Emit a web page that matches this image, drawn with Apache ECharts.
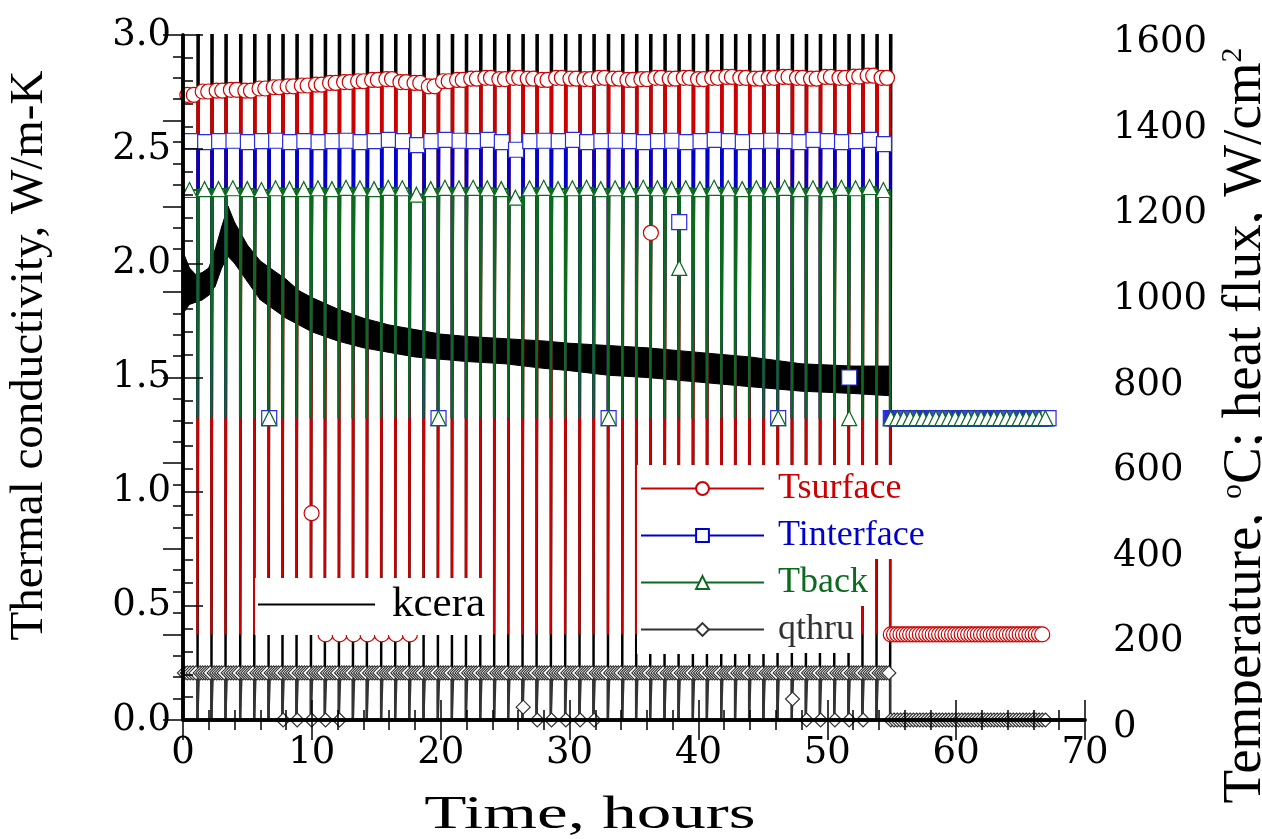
<!DOCTYPE html>
<html>
<head>
<meta charset="utf-8">
<script src="https://cdn.jsdelivr.net/npm/echarts@6/dist/echarts.min.js"></script>
<style>
  html, body { margin: 0; background: #fff; }
  #chart { width: 1262px; height: 839px; }
</style>
</head>
<body>
<div id="chart"></div>
<script>
// start of each cool-down (hours)
const cycleTimes = [1.12, 2.20, 3.29, 4.43, 5.52, 6.63, 7.71, 8.80, 9.92, 11.00,
  12.09, 13.18, 14.26, 15.37, 16.46, 17.55, 18.66, 19.77, 20.86, 21.95,
  23.06, 24.14, 25.23, 26.34, 27.43, 28.54, 29.65, 30.76, 31.85, 32.97,
  34.08, 35.16, 36.25, 37.36, 38.45, 39.56, 40.65, 41.76, 42.84, 43.93,
  45.04, 46.13, 47.24, 48.33, 49.42, 50.53, 51.64, 52.72, 53.81, 54.87]
const coolLength = 0.12
const tailEnd = 67.2

// hot plateau before each cool-down
const tsurfHot = [1460, 1468, 1470, 1472, 1470, 1475, 1478, 1480, 1482, 1484,
  1488, 1490, 1492, 1495, 1497, 1490, 1488, 1480, 1492, 1495,
  1498, 1500, 1497, 1500, 1498, 1495, 1500, 1498, 1497, 1500,
  1498, 1495, 1497, 1500, 1498, 1500, 1497, 1500, 1502, 1500,
  1498, 1500, 1502, 1500, 1498, 1502, 1500, 1503, 1505, 1500]
const tintHot = [1352, 1350, 1352, 1353, 1350, 1352, 1353, 1350, 1352, 1350,
  1352, 1353, 1350, 1352, 1355, 1352, 1343, 1352, 1355, 1353,
  1352, 1355, 1350, 1332, 1352, 1353, 1352, 1355, 1350, 1352,
  1353, 1352, 1350, 1352, 1353, 1350, 1352, 1355, 1352, 1350,
  1352, 1353, 1352, 1350, 1355, 1352, 1350, 1352, 1355, 1345]
const tbackHot = [1238, 1240, 1240, 1242, 1240, 1238, 1242, 1240, 1240, 1242,
  1240, 1243, 1242, 1240, 1243, 1242, 1227, 1240, 1243, 1242,
  1243, 1242, 1240, 1220, 1242, 1243, 1240, 1242, 1243, 1240,
  1242, 1240, 1243, 1242, 1240, 1242, 1240, 1243, 1242, 1240,
  1242, 1240, 1243, 1240, 1242, 1240, 1243, 1242, 1245, 1238]
const qthruHot = 110

// values during cool-down and after the test
const tsurfCool = 200
const tintCool = 705
const tbackCool = 705
const qthruCool = 0

// cycles where the plotted symbol landed in the cool-down
const tsurfLowCycles = [9, 10, 11, 12, 13, 14, 15]
const tintLowCycles = [5, 17, 29, 41]
const tbackLowCycles = [5, 17, 29, 41, 46]
const qthruLowCycles = [6, 7, 8, 9, 10, 24, 25, 26, 27, 28, 43, 44, 45, 46, 47]
// symbols caught mid-transition: [cycle, value]
const tsurfMid = [[8, 483], [32, 1138]]
const tintMid = [[34, 1163], [46, 800]]
const tbackMid = [[34, 1056]]
const qthruMid = [[23, 30], [42, 49]]

// kcera noisy band: time, lower and upper edge
const kceraTimes = [0, 0.5, 1, 1.5, 2, 2.5, 3, 3.5, 4, 4.5, 5, 6, 7, 8, 9, 10,
  12, 14, 16, 18, 20, 22, 25, 28, 30, 33, 36, 40, 44, 48, 52, 54.9]
const kceraLow = [1.78, 1.82, 1.83, 1.84, 1.86, 1.90, 1.98, 2.03, 2.00, 1.96, 1.92, 1.84, 1.80, 1.76, 1.73, 1.70,
  1.66, 1.63, 1.61, 1.59, 1.58, 1.57, 1.56, 1.54, 1.53, 1.51, 1.50, 1.48, 1.46, 1.44, 1.43, 1.42]
const kceraHigh = [2.05, 1.98, 1.95, 1.96, 1.98, 2.06, 2.16, 2.25, 2.18, 2.13, 2.08, 2.01, 1.97, 1.93, 1.88, 1.85,
  1.80, 1.76, 1.73, 1.71, 1.69, 1.68, 1.67, 1.66, 1.65, 1.64, 1.63, 1.61, 1.59, 1.56, 1.55, 1.55]

const serif = 'Liberation Serif'
const wide = 'DejaVu Serif'
const lineW = 2.2

const at = (v, i) => (Array.isArray(v) ? v[i] : v)

const wave = (hot, cool) => {
  const pts = [[0, at(hot, 0)]]
  cycleTimes.forEach((t, i) => {
    pts.push([t, at(hot, i)], [t, cool])
    if (i < cycleTimes.length - 1) {
      pts.push([t + coolLength, cool], [t + coolLength, at(hot, i + 1)])
    } else {
      pts.push([tailEnd, cool])
    }
  })
  return pts
}

const intervals = cycleTimes.map((t, i) => [i === 0 ? 0 : cycleTimes[i - 1] + coolLength, t])

const hotMarks = (hot, fractions) => {
  const pts = []
  intervals.forEach(([a, b], i) => {
    fractions.forEach((f) => pts.push([a + (b - a) * f, at(hot, i)]))
  })
  return pts
}
const mid = (i) => cycleTimes[i] + coolLength / 2
const lowMarks = (cycles, v) => cycles.map((i) => [mid(i), v])
const midMarks = (list) => list.map(([i, v]) => [mid(i), v])
const tailMarks = (v, step, end) => {
  const pts = []
  for (let t = mid(cycleTimes.length - 1); t <= end + 1e-6; t += step) {
    pts.push([t, v])
  }
  return pts
}

// kcera goes off scale at every cool-down
const spikes = () => {
  const pts = []
  cycleTimes.forEach((t) => {
    pts.push([t, 3.4], [t, -0.4], [t + coolLength, -0.4], [t + coolLength, 3.4])
  })
  return pts
}

const tempLine = (name, color, symbol, hot, cool, z) => ({
  name,
  type: 'line',
  yAxisIndex: 1,
  data: wave(hot, cool),
  showSymbol: false,
  symbol,
  itemStyle: { color: '#fff', borderColor: color, borderWidth: 1 },
  lineStyle: { color, width: lineW },
  z,
  silent: true,
})

const marks = (name, color, symbol, size, data) => ({
  name,
  type: 'scatter',
  yAxisIndex: 1,
  data,
  symbol,
  symbolSize: size,
  itemStyle: { color: '#fff', borderColor: color, borderWidth: 1.2, opacity: 1 },
  z: 10,
  silent: true,
})

const red = '#cc0000'
const blue = '#0000cc'
const green = '#0b6a1e'
const grey = '#333333'

const axisBase = {
  type: 'value',
  z: 12,
  axisLine: { lineStyle: { color: '#000', width: 3.5 } },
  axisTick: { inside: true, length: 20, lineStyle: { color: '#000', width: 1.5 } },
  splitLine: { show: false },
}

const chart = echarts.init(document.getElementById('chart'))
const option = {
  backgroundColor: '#fff',
  animation: false,
  grid: { left: 183, right: 177, top: 35, bottom: 119, outerBoundsMode: 'none' },
  legend: [
    {
      data: [{ name: 'kcera', icon: 'rect' }],
      left: 255,
      top: 578,
      itemWidth: 117,
      itemHeight: 2,
      padding: [5, 5, 9, 3],
      backgroundColor: '#fff',
      selectedMode: false,
      z: 20,
      textStyle: { fontFamily: serif, fontSize: 43, color: '#000', lineHeight: 43, padding: [0, 0, 0, 12] },
    },
    {
      orient: 'vertical',
      data: [
        { name: 'Tsurface', textStyle: { color: red } },
        { name: 'Tinterface', textStyle: { color: blue } },
        { name: 'Tback', textStyle: { color: green } },
        { name: 'qthru', textStyle: { color: grey } },
      ],
      left: 637,
      top: 465,
      itemWidth: 123,
      itemHeight: 16,
      itemGap: 0,
      padding: [0, 0, 0, 3],
      selectedMode: false,
      z: 20,
      textStyle: {
        fontFamily: serif,
        fontSize: 36,
        lineHeight: 40,
        backgroundColor: '#fff',
        padding: [3.5, 4, 3.5, 9],
      },
    },
  ],
  graphic: [
    {
      // white ground behind the legend keys
      type: 'rect',
      z: 15,
      silent: true,
      shape: { x: 637, y: 465, width: 132, height: 189 },
      style: { fill: '#fff' },
    },
    {
      type: 'text',
      x: 590,
      y: 816,
      scaleX: 1.47,
      z: 20,
      style: {
        text: 'Time, hours',
        fontFamily: serif,
        fontSize: 47,
        fill: '#000',
        align: 'center',
        verticalAlign: 'middle',
      },
    },
  ],
  xAxis: [
    {
      ...axisBase,
      min: 0,
      max: 70,
      interval: 10,
      position: 'bottom',
      minorTick: { show: true, splitNumber: 5, length: 10, lineStyle: { color: '#000', width: 1.5 } },
      axisLabel: { fontFamily: wide, fontSize: 37, color: '#000', margin: 15 },
    },
    {
      ...axisBase,
      min: 0,
      max: 70,
      interval: 10,
      position: 'top',
      minorTick: { show: true, splitNumber: 5, length: 10, lineStyle: { color: '#000', width: 1.5 } },
      axisLabel: { show: false },
    },
  ],
  yAxis: [
    {
      ...axisBase,
      min: 0,
      max: 3,
      interval: 0.5,
      position: 'left',
      minorTick: { show: true, splitNumber: 5, length: 10, lineStyle: { color: '#000', width: 1.5 } },
      axisLabel: { fontFamily: wide, fontSize: 37, color: '#000', margin: 12, formatter: (v) => v.toFixed(1) },
      name: 'Thermal conductivity, W/m-K',
      nameLocation: 'middle',
      nameGap: 130,
      nameTextStyle: { fontFamily: serif, fontSize: 47, color: '#000', padding: [0, 0, 0, 44] },
    },
    {
      ...axisBase,
      min: 0,
      max: 1600,
      interval: 200,
      position: 'right',
      minorTick: { show: true, splitNumber: 4, length: 10, lineStyle: { color: '#000', width: 1.5 } },
      axisLabel: {
        fontFamily: wide, fontSize: 37, color: '#000', margin: 28,
        verticalAlign: 'top', lineHeight: 15, formatter: (v) => String(v),
      },
      name: 'Temperature, {s|o}C; heat flux, W/cm{s|2}',
      nameLocation: 'middle',
      nameRotate: 90,
      nameGap: 133,
      nameTextStyle: {
        fontFamily: serif,
        fontSize: 55,
        color: '#000',
        padding: [0, 96, 0, 0],
        rich: { s: { fontFamily: serif, fontSize: 30, verticalAlign: 'top', lineHeight: 55 } },
      },
    },
  ],
  series: [
    {
      name: 'kcera band',
      type: 'custom',
      data: kceraTimes.map((t, i) => [t, kceraLow[i], kceraHigh[i]]),
      encode: { x: 0, y: [1, 2] },
      z: 1,
      silent: true,
      renderItem: (params, api) => {
        const i = params.dataIndex
        if (i >= kceraTimes.length - 1) return null
        const points = [
          api.coord([api.value(0), api.value(1)]),
          api.coord([kceraTimes[i + 1], kceraLow[i + 1]]),
          api.coord([kceraTimes[i + 1], kceraHigh[i + 1]]),
          api.coord([api.value(0), api.value(2)]),
        ]
        return {
          type: 'polygon',
          shape: { points },
          style: { fill: '#000', stroke: '#000', lineWidth: 1 },
        }
      },
    },
    {
      name: 'kcera',
      type: 'line',
      data: spikes(),
      showSymbol: false,
      symbol: 'none',
      itemStyle: { color: '#000' },
      lineStyle: { color: '#000', width: lineW },
      z: 1,
      silent: true,
    },
    tempLine('qthru', grey, 'diamond', qthruHot, qthruCool, 2),
    tempLine('Tsurface', red, 'circle', tsurfHot, tsurfCool, 3),
    tempLine('Tinterface', blue, 'rect', tintHot, tintCool, 4),
    tempLine('Tback', green, 'triangle', tbackHot, tbackCool, 5),
    marks('qthru marks', grey, 'diamond', 14, [
      ...hotMarks(qthruHot, [0.1, 0.3, 0.5, 0.7, 0.9]),
      ...lowMarks(qthruLowCycles, qthruCool),
      ...midMarks(qthruMid),
      ...tailMarks(qthruCool, 0.25, 67.0),
    ]),
    marks('Tsurface marks', red, 'circle', 15, [
      ...hotMarks(tsurfHot, [0.3, 0.75]),
      ...lowMarks(tsurfLowCycles, tsurfCool),
      ...midMarks(tsurfMid),
      ...tailMarks(tsurfCool, 0.25, 66.9),
    ]),
    marks('Tinterface marks', '#2a2ae0', 'rect', 15, [
      ...hotMarks(tintHot, [0.5]),
      ...lowMarks(tintLowCycles, tintCool),
      ...midMarks(tintMid),
      ...tailMarks(tintCool, 0.08, 67.2),
    ]),
    marks('Tback marks', green, 'triangle', 15, [
      ...hotMarks(tbackHot, [0.45]),
      ...lowMarks(tbackLowCycles, tbackCool),
      ...midMarks(tbackMid),
      ...tailMarks(tbackCool, 0.5, 67.2),
    ]),
  ],
}
chart.setOption(option)
</script>
</body>
</html>
